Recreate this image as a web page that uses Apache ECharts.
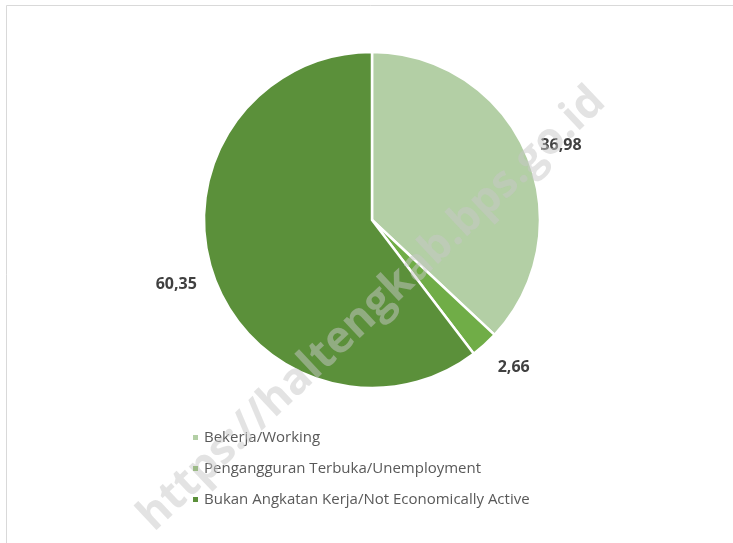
<!DOCTYPE html>
<html>
<head>
<meta charset="utf-8">
<script src="https://cdn.jsdelivr.net/npm/echarts@6/dist/echarts.min.js"></script>
<style>
  html, body { margin: 0; padding: 0; background: #fff; }
  #chart { width: 733px; height: 543px; }
</style>
</head>
<body>
<div id="chart"></div>
<script>
// data
var categories = ['Bekerja/Working', 'Pengangguran Terbuka/Unemployment', 'Bukan Angkatan Kerja/Not Economically Active'];
var values = [36.98, 2.66, 60.35];
var colors = ['#b3cfa5', '#70ad47', '#5b903a'];
var lineLens = [21, 30, 19];
// small nudges so labels sit where excel put them
var labelShift = [[-5, 1], [-7, 0], [2, 5]];

var myChart = echarts.init(document.getElementById('chart'));

var pieData = categories.map(function (name, i) {
  return {
    name: name,
    value: values[i],
    itemStyle: { color: colors[i] },
    labelLine: { show: false, length: lineLens[i], length2: 0 }
  };
});

var option = {
  backgroundColor: '#fff',
  animation: false,
  legend: {
    orient: 'vertical',
    left: 186,
    top: 425,
    itemWidth: 7,
    itemHeight: 7,
    itemGap: 16,
    icon: 'rect',
    data: categories,
    textStyle: { fontFamily: 'Open Sans', fontSize: 15, color: '#595959', padding: [0, 0, 0, 0] }
  },
  graphic: [
    {
      type: 'rect',
      left: 4, top: 3,
      shape: { width: 760, height: 580 },
      style: { fill: 'none', stroke: '#d9d9d9', lineWidth: 1 },
      silent: true
    },
    {
      type: 'text',
      x: 372, y: 309,
      rotation: Math.PI / 4.15,
      z: 100,
      style: {
        text: 'https://haltengkab.bps.go.id',
        fontFamily: 'Open Sans',
        fontWeight: 'bold',
        fontSize: 44,
        fill: 'rgba(200,200,200,0.5)',
        align: 'center',
        verticalAlign: 'middle'
      },
      silent: true
    }
  ],
  series: [
    {
      type: 'pie',
      center: [372, 220],
      radius: 168,
      startAngle: 90,
      clockwise: true,
      avoidLabelOverlap: false,
      itemStyle: { borderColor: '#fff', borderWidth: 2.5 },
      label: {
        show: true,
        position: 'outside',
        distanceToLabelLine: 0,
        fontFamily: 'Open Sans',
        fontWeight: 'bold',
        fontSize: 16,
        color: '#404040',
        formatter: function (p) { return p.value.toFixed(2).replace('.', ','); }
      },
      labelLayout: function (p) {
        return { dx: labelShift[p.dataIndex][0], dy: labelShift[p.dataIndex][1] };
      },
      emphasis: { disabled: true },
      data: pieData
    }
  ]
};

myChart.setOption(option);
</script>
</body>
</html>
